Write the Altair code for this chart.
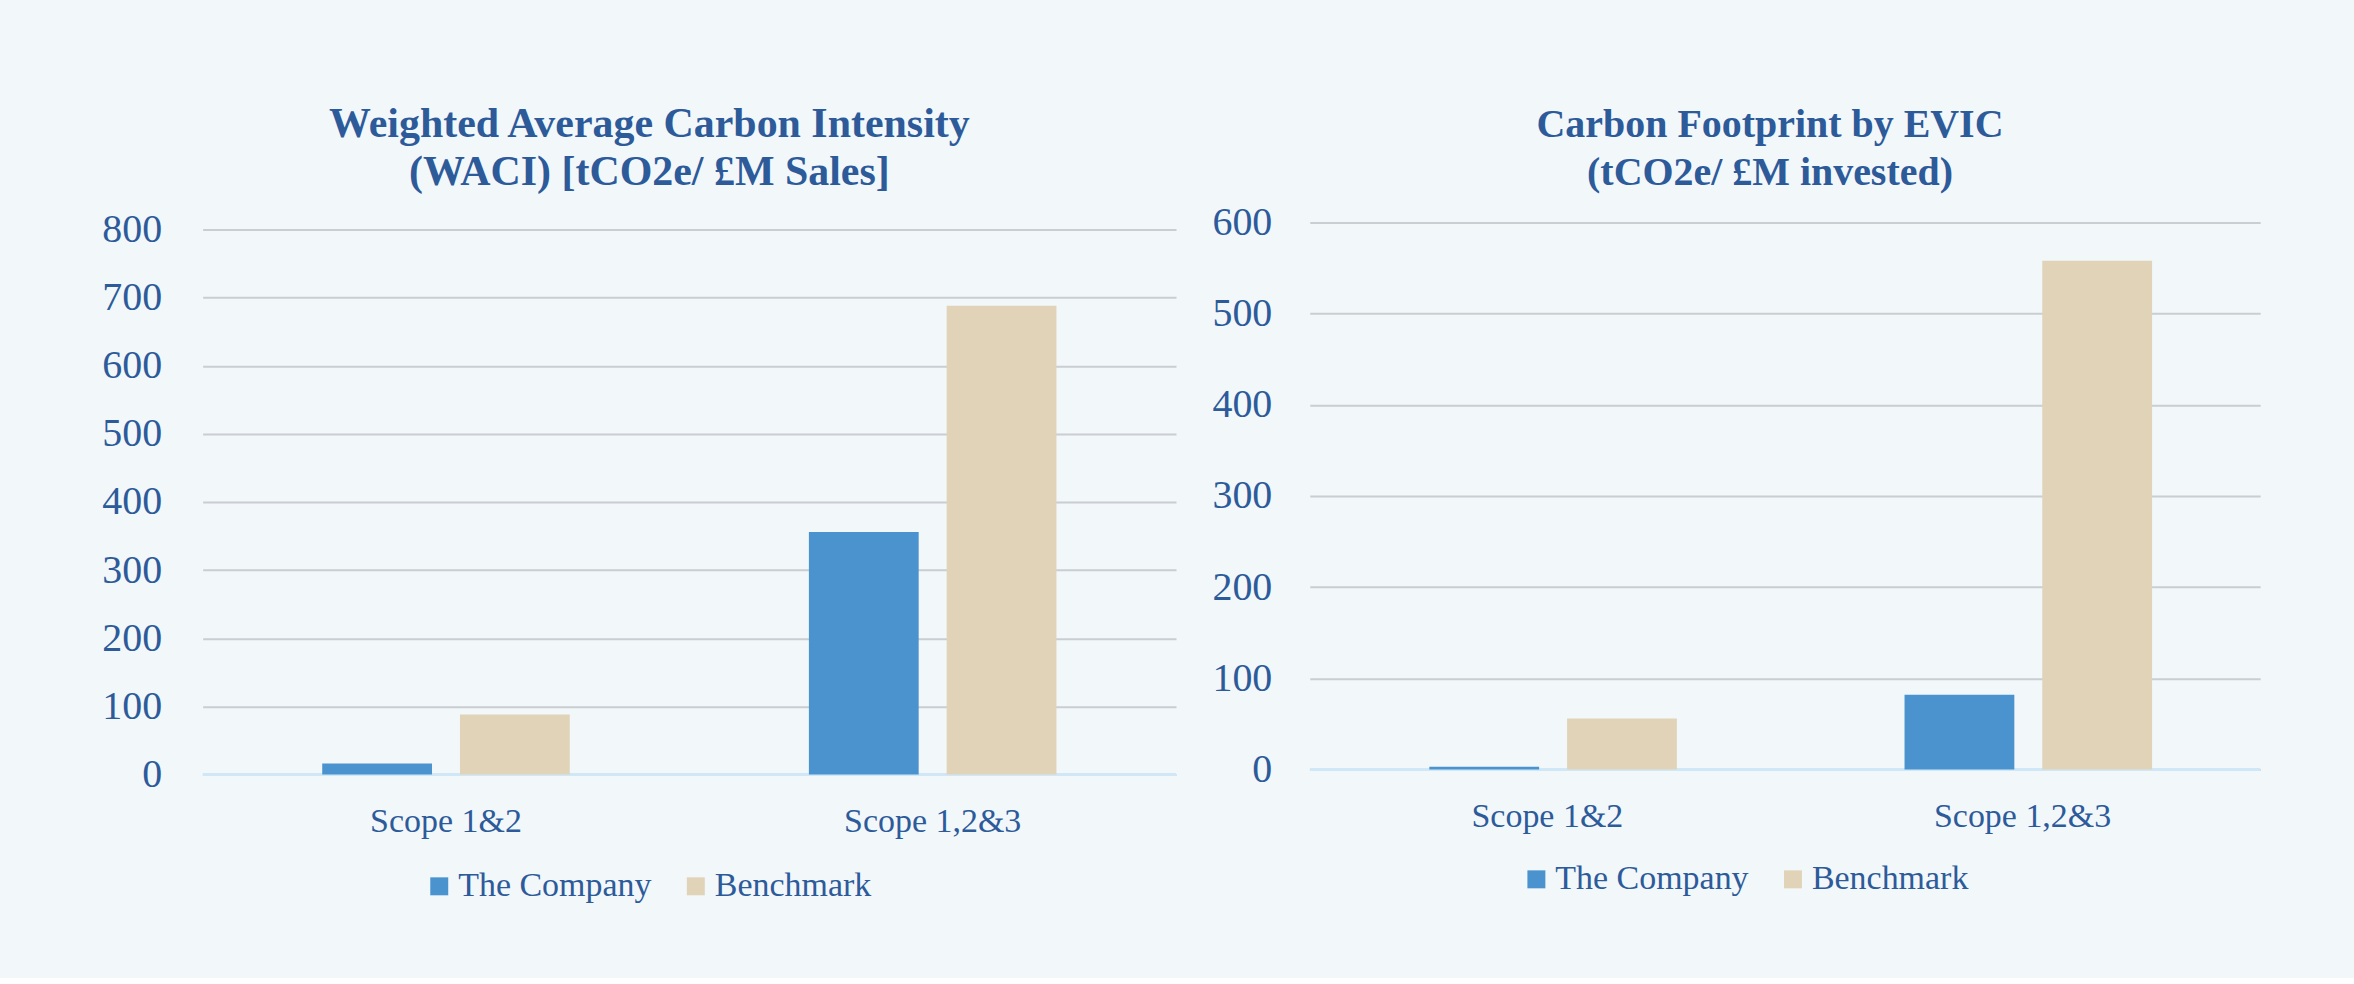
import altair as alt
import pandas as pd

# ---- data ----
categories = ["Scope 1&2", "Scope 1,2&3"]
series = ["The Company", "Benchmark"]
waci_company = [16, 356]
waci_benchmark = [88, 688]
evic_company = [3, 82]
evic_benchmark = [56, 558]
waci_ticks = [0, 100, 200, 300, 400, 500, 600, 700, 800]
evic_ticks = [0, 100, 200, 300, 400, 500, 600]
bar_colors = ["#4A93CE", "#E0D3B8"]
waci_title = ["Weighted Average Carbon Intensity", "(WACI) [tCO2e/ £M Sales]"]
evic_title = ["Carbon Footprint by EVIC", "(tCO2e/ £M invested)"]

FONT = "Liberation Serif"
TEXT = "#2D5B9A"
BG = "#F2F7FA"


def make_df(company, bench):
    rows = []
    for i, c in enumerate(categories):
        rows.append({"category": c, "series": series[0], "value": company[i]})
        rows.append({"category": c, "series": series[1], "value": bench[i]})
    return pd.DataFrame(rows)


def panel(df, title_lines, title_size, ticks, ymax, width, height, yrange, pi, po,
          legend_x, legend_y, title_offset, title_dx, label_pad):
    bars = alt.Chart(df).mark_bar().encode(
        x=alt.X("category:N", sort=categories,
                scale=alt.Scale(paddingInner=0, paddingOuter=0),
                axis=alt.Axis(title=None, labelAngle=0, labelFont=FONT,
                              labelFontSize=34, labelColor=TEXT, labelPadding=30,
                              ticks=False, domain=False, grid=False)),
        xOffset=alt.XOffset("series:N", sort=series,
                            scale=alt.Scale(paddingInner=pi, paddingOuter=po)),
        y=alt.Y("value:Q", scale=alt.Scale(domain=[0, ymax], nice=False, range=yrange),
                axis=alt.Axis(values=ticks, title=None, grid=True,
                              gridColor="#CACED2", gridWidth=2, domain=False,
                              ticks=False, labelPadding=label_pad,
                              labelFont=FONT, labelFontSize=40, labelColor=TEXT,
                              minExtent=105, maxExtent=105)),
        color=alt.Color("series:N", sort=series,
                        scale=alt.Scale(domain=series, range=bar_colors),
                        legend=alt.Legend(title=None, orient="none",
                                          direction="horizontal",
                                          legendX=legend_x, legendY=legend_y,
                                          symbolType="square", symbolSize=324,
                                          symbolStrokeWidth=0, labelFont=FONT,
                                          labelFontSize=34, labelColor=TEXT,
                                          labelLimit=0, labelOffset=2,
                                          columnPadding=27, padding=0)),
    )
    zero = alt.Chart(pd.DataFrame({"v": [0]})).mark_rule(
        color="#CFE7F7", strokeWidth=3).encode(y=alt.Y("v:Q"))
    return alt.layer(zero, bars).properties(
        width=width, height=height,
        title=alt.Title(text=title_lines, font=FONT, fontSize=title_size,
                        fontWeight="bold", color=TEXT, lineHeight=48,
                        anchor="middle", frame="group", dx=title_dx,
                        offset=title_offset),
    )


left = panel(make_df(waci_company, waci_benchmark), waci_title, 42, waci_ticks, 800,
             975, 553, [553, 7], 0.203, 0.868, 220, 648, 16, -40, 41)
right = panel(make_df(evic_company, evic_benchmark), evic_title, 40, evic_ticks, 600,
              952, 548, [548, 0], 0.213, 0.857, 210, 641, 10, -15, 38)

chart = alt.hconcat(left, right, spacing=27).resolve_scale(
    color="independent", y="independent", x="independent"
).properties(
    background=BG,
    padding={"left": 98, "top": 102, "right": 92, "bottom": 74},
).configure_view(stroke=None)

chart.save("out.html", embed_options={"renderer": "svg", "actions": False})
